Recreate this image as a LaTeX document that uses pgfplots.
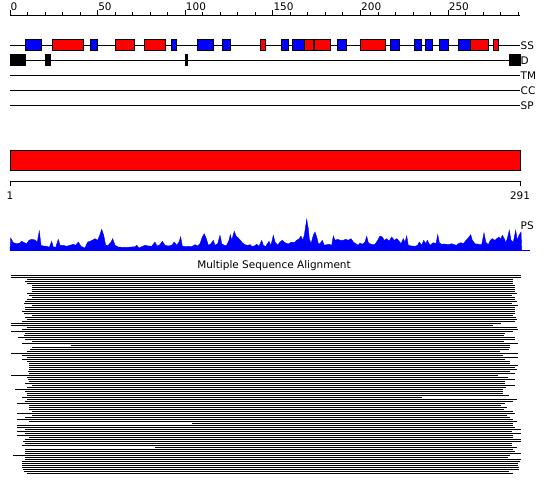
\documentclass[border=0pt]{standalone}
\usepackage{fontspec}
\setmainfont{DejaVu Sans}
\usepackage{pgfplots}
\usepackage{pgfplotstable}
\pgfplotsset{compat=1.18}
% residue -> horizontal pixel position
\newcommand\R[1]{10+1.75258*#1}
\newcommand\trackbox[5]{\addplot[fill=#1,draw=black,line width=1bp,forget plot] coordinates {(\R{#2},#4) (\R{#3},#4) (\R{#3},#5) (\R{#2},#5)} -- cycle;}
\newcommand\ssH[1]{\trackbox{red}#1{40}{50.5}}
\newcommand\ssE[1]{\trackbox{blue}#1{40}{50.5}}
\newcommand\dom[1]{\trackbox{black}#1{55}{65.5}}

% multiple sequence alignment: row y (px), start (px), end (px)
\pgfplotstableread{
y s e
275 11 520.7
277 11 520.7
279 27.3 512.7
281 25 512.7
283 26.7 512.7
285 32.3 515
287 32.3 515
289 32.3 515
291 32.3 515
293 27.3 516.7
295 29.3 511.7
297 32.3 515
299 26.7 515
301 25 516.7
303 24.3 511.7
305 32.3 518.3
307 25 515
309 25 515
311 22 515
313 24.3 515
315 32.3 512.7
317 25 516
319 26.7 516.7
321 22 515
323 11 500.7
325 11 493.3
327 26.7 516.7
329 22 518.3
331 11 512.7
333 25 505
335 24.3 504
337 18.3 515
339 25 515
341 32.3 504
343 22 518.3
345 70.7 510
347 32.3 510
349 30 509.3
351 26.7 500
353 11 518.3
355 22 503.3
357 26.7 518.3
359 22 505
361 26.7 510
363 29.3 510
365 29.3 518.3
367 29.3 515
369 29.3 516.7
371 28.3 510
373 29.3 515
375 11 498.3
377 26.7 508.3
379 28.3 515
381 29.3 505
383 25 505
385 32.3 515
387 26.7 506
389 15 502.7
391 25 502.7
393 26.7 502.7
395 26.7 509.3
397 22 421.7
399 27.3 516.7
401 25 512.7
403 17.3 505
405 29.3 500.7
407 29.3 507.3
409 29.3 504
411 32.3 512.7
413 17.3 515
415 32.3 507.3
417 25 510
419 17.3 512.7
421 29.3 516.7
423 192 512.7
425 17.3 513.3
427 17.3 515
429 25 520.7
431 17.3 511.7
433 25 520.7
435 17.3 513.3
437 29.3 513.3
439 25 520.7
441 23.3 520.7
443 25 511.7
445 22 511.7
447 155 516.7
449 25 512.7
451 25 515
453 25 520.7
455 13.3 510
457 25 508.3
459 25 520.7
461 22 520
463 22 518.3
465 22 518.3
467 22 519.3
469 23.3 519.3
471 24.3 509.3
473 26.7 513.3
}\msa

\tikzset{lbl/.style={font=\fontsize{10.5}{12}\selectfont, inner sep=0pt}}

\begin{document}
\begin{tikzpicture}
\begin{axis}[scale only axis, width=550bp, height=495bp,
  xmin=0, xmax=550, ymin=0, ymax=495, y dir=reverse,
  hide axis, clip=false]
% background / extent
\addplot[fill=white, draw=none, forget plot] coordinates {(0,0) (550,0) (550,495) (0,495)} -- cycle;

% ---------- top ruler ----------
\addplot[black, line width=1bp, forget plot] coordinates {(\R{0},15.5) (\R{291},15.5)};
\pgfplotsinvokeforeach{0,10,...,290}{\addplot[black, line width=1bp, forget plot] coordinates {(\R{#1},15.5) (\R{#1},12.5)};}
\pgfplotsinvokeforeach{0,50,...,250}{\addplot[black, line width=1bp, forget plot] coordinates {(\R{#1},15.5) (\R{#1},10)};
  \node[lbl, anchor=base west] at (axis cs:\R{#1}+0.5,11) {#1};}

% ---------- track lines ----------
\addplot[black, line width=1bp, forget plot] coordinates {(\R{0},45.5) (\R{291},45.5)};
\addplot[black, line width=1bp, forget plot] coordinates {(\R{0},60.5) (\R{291},60.5)};
\addplot[black, line width=1bp, forget plot] coordinates {(\R{0},75.5) (\R{291},75.5)};
\addplot[black, line width=1bp, forget plot] coordinates {(\R{0},90.5) (\R{291},90.5)};
\addplot[black, line width=1bp, forget plot] coordinates {(\R{0},105.5) (\R{291},105.5)};

% secondary structure (red helix, blue strand)
\ssE{{9}{18}}
\ssH{{24}{42}}
\ssE{{46}{50}}
\ssH{{60}{71}}
\ssH{{77}{89}}
\ssE{{92}{95}}
\ssE{{107}{116}}
\ssE{{121}{126}}
\ssH{{143}{146}}
\ssE{{155}{159}}
\ssE{{161}{168}}
\ssH{{168}{173}}
\ssH{{174}{183}}
\ssE{{187}{192}}
\ssH{{200}{214}}
\ssE{{217}{222}}
\ssE{{231}{235}}
\ssE{{237}{241}}
\ssE{{245}{250}}
\ssE{{256}{263}}
\ssH{{263}{273}}
\ssH{{276}{278.5}}

% disorder
\dom{{0}{8.6}}
\dom{{20.5}{23}}
\dom{{100}{101.5}}
\dom{{285}{291}}

\node[lbl, anchor=west] at (axis cs:520.5,45.5) {SS};
\node[lbl, anchor=west] at (axis cs:520.5,60.5) {D};
\node[lbl, anchor=west] at (axis cs:520.5,75.5) {TM};
\node[lbl, anchor=west] at (axis cs:520.5,90.5) {CC};
\node[lbl, anchor=west] at (axis cs:520.5,105.5) {SP};

% ---------- domain bar ----------
\addplot[fill=red, draw=black, line width=1bp, forget plot] coordinates {(\R{0},150) (\R{291},150) (\R{291},170) (\R{0},170)} -- cycle;

% ---------- lower ruler ----------
\addplot[black, line width=1bp, forget plot] coordinates {(\R{0},186) (\R{0},181.5) (\R{291},181.5) (\R{291},186)};
\node[lbl, anchor=center] at (axis cs:\R{0},196) {1};
\node[lbl, anchor=center] at (axis cs:\R{291},196) {291};

% ---------- PS profile ----------
\addplot[fill=blue, draw=blue, line width=0.4bp, forget plot] coordinates {
(10,250.7) (10.7,238) (13.3,242.7) (16.7,243.7) (20,243) (21.7,241.3) (24.3,242.7) (26.7,243.7)
(29,240.3) (31.7,239.3) (35,240) (37.3,242) (39.3,231) (41,245.3) (43.3,246) (46.7,246.3)
(49.3,247.3) (51.7,241.3) (53.3,247) (55.7,247.3) (58.3,239.3) (60,245.3) (63.3,245.3) (66.7,246.3)
(70,245.3) (73.3,244.3) (75.7,245.3) (78.3,242) (81,246.3) (85,248) (87.7,242) (90,241.3)
(92.3,240.3) (95,238.7) (97.7,240.3) (99.7,235.3) (101.7,229.3) (103.7,235.3) (105.7,245.3) (108.3,245.3)
(111,242) (112.7,238.7) (115,245.3) (118.3,247) (121.7,247.3) (125,247.3) (128.3,247.3) (131.7,247)
(135,246.7) (136.7,245.3) (139,248) (141.7,246.7) (145,245.3) (148.3,246) (151.7,246.3) (155,242)
(157,246) (160,244.7) (162.3,241.3) (165,245.3) (168.3,246) (171.7,245.3) (174.3,242) (176.7,245.3)
(179,242) (180.7,237) (182.3,246) (185,246.7) (188.3,246.3) (191.7,246.7) (195,244.7) (197.7,246)
(200,243.7) (202.3,237) (204.3,233.7) (206.3,238.7) (208.3,245.3) (211,243.7) (213.3,240.3) (215,245.3)
(217.7,243.7) (220,235.3) (221.7,243.7) (224.3,245.3) (226.7,245.3) (229,240.3) (230.3,234.7) (231.7,240.3)
(234.3,231.3) (236,236) (238.3,238) (240.3,240.3) (242.3,242.7) (245,244.7) (247.7,245.3) (250.3,244.7)
(251.7,246.3) (254.3,246) (256.7,244.3) (259,246.3) (261.7,240.3) (263.3,245.3) (265.7,246.7) (266.7,244.7)
(269,241.3) (271,245.3) (273.3,235.3) (275,242) (277.7,245.3) (280,242) (282.3,240.3) (285,242.7)
(288.3,244) (291.7,242) (294.3,242.7) (296.7,240.3) (299.3,238.7) (301,236) (302.7,240.3) (304.3,235.3)
(306.7,219.3) (308.3,228.7) (309.3,238.7) (311,243.7) (313.3,235.3) (315,232) (316.7,237) (318.3,243.7)
(320,243.7) (322.3,240.3) (324.3,245.3) (326.7,244.7) (329,244.3) (331.7,245.3) (333.3,236) (335,240.3)
(337.7,239.3) (340,240.3) (343.3,240.3) (345.7,239.3) (348.3,240.3) (351,238.7) (353.3,242) (355.7,243.7)
(358.3,245.3) (360,243) (362.3,244.3) (365,242) (366.7,236.3) (368.3,242.7) (371.7,244.7) (375,244.3)
(377.7,240.3) (380,236) (382.3,237) (384.3,240.3) (386.7,238.7) (389,241.3) (391.7,237) (394.3,240.3)
(396.7,238.7) (398.3,240.3) (401,243.7) (403.3,238.7) (405,242) (406.7,236) (408.3,245.3) (411.7,246)
(415,246.3) (417.7,245.3) (419.3,242) (421.7,245.3) (423.7,240.3) (425.7,243.7) (427.3,240.3) (430,245.3)
(433.3,242.7) (436,243.7) (437.7,234.7) (439.3,242.7) (441.7,244.3) (445,244) (448.3,244.7) (451.7,243.7)
(454.3,244.7) (456.7,245.3) (458.3,243.7) (461,242.7) (463.3,243.7) (466,240.3) (468.3,238) (470.7,234.7)
(472.3,240.3) (475,243.7) (478.3,244.3) (481.7,244.7) (484,232.7) (485.7,242) (488.3,244.7) (490.3,240.3)
(492.3,238.7) (495,240.3) (496.7,238.7) (499,237) (500.7,239.3) (502.3,235.3) (504.3,238.7) (505.7,242.7)
(507.3,238.7) (509.3,230.3) (511,240.3) (513.3,242) (515.7,230.3) (517.3,240.3) (519,235.3) (521,232)
(521.7,250.7)} -- cycle;
\addplot[blue, line width=1bp, forget plot] coordinates {(10,250.5) (530,250.5)};
\node[lbl, anchor=west] at (axis cs:520.5,225.5) {PS};

% ---------- multiple sequence alignment ----------
\node[lbl, anchor=center] at (axis cs:274,266) {Multiple Sequence Alignment};
\addplot[draw=none, mark=none, forget plot,
  error bars/.cd, x dir=plus, x explicit, error mark=none,
  error bar style={draw=black, solid, line width=1.1bp}]
  table[x=s, y expr=\thisrow{y}+0.5, x error expr=\thisrow{e}-\thisrow{s}] {\msa};
\end{axis}
\end{tikzpicture}
\end{document}
